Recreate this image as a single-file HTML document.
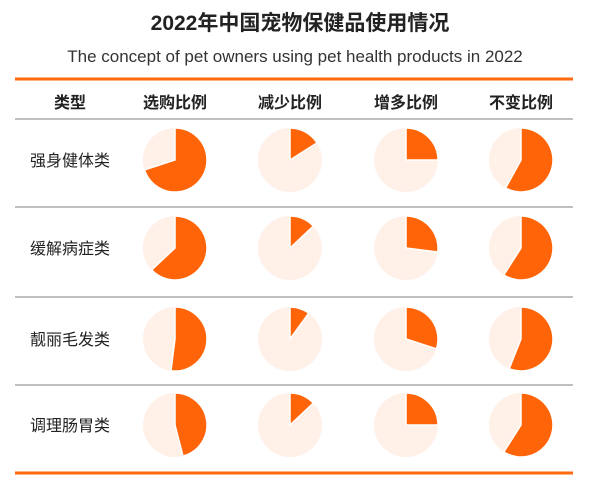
<!DOCTYPE html>
<html><head><meta charset="utf-8"><style>
body{margin:0;background:#fff;width:600px;height:483px;overflow:hidden;font-family:"Liberation Sans","Noto Sans CJK SC",sans-serif}
</style></head><body>
<svg width="600" height="483" id="c">
<text x="300" y="30" text-anchor="middle" font-size="21" font-weight="bold" fill="#222" font-family="Liberation Sans, Noto Sans CJK SC, sans-serif">2022年中国宠物保健品使用情况</text>
<text x="295" y="62" text-anchor="middle" font-size="17" fill="#333">The concept of pet owners using pet health products in 2022</text>
<line x1="15" x2="573" y1="79" y2="79" stroke="#ff6a10" stroke-width="3"/>
<line x1="15" x2="573" y1="473" y2="473" stroke="#ff6a10" stroke-width="3"/>
<g id="g"></g>
</svg>
<script>
const categories=["强身健体类","缓解病症类","靓丽毛发类","调理肠胃类"];
const columns=["选购比例","减少比例","增多比例","不变比例"];
const buyShare=[70,63,52,46];
const lessShare=[16,13,10,13];
const moreShare=[25,27,30,25];
const sameShare=[58,59,56,59];
const series=[buyShare,lessShare,moreShare,sameShare];
const NS="http://www.w3.org/2000/svg";
const g=document.getElementById('g');
const colX=[175,290,406,521], rowY=[160,248,339,425], R=32;
function mk(t,a){const e=document.createElementNS(NS,t);for(const k in a)e.setAttribute(k,a[k]);g.appendChild(e);return e;}
let h=mk('text',{x:70,y:108,'text-anchor':'middle','font-size':16,'font-weight':'bold',fill:'#222'});h.textContent="类型";


columns.forEach((c,i)=>{const t=mk('text',{x:colX[i],y:108,'text-anchor':'middle','font-size':16,'font-weight':'bold',fill:'#222'});t.textContent=c;

});
[119,207,297,385].forEach(y=>{const l=mk('line',{x1:15,x2:573,y1:y,y2:y,stroke:'#999','stroke-width':1.2});

});
categories.forEach((c,r)=>{
const t=mk('text',{x:70,y:rowY[r]+6,'text-anchor':'middle','font-size':16,fill:'#222'});t.textContent=c;


series.forEach((s,ci)=>{
const cx=colX[ci],cy=rowY[r],v=s[r];
const bg=mk('circle',{cx:cx,cy:cy,r:R,fill:'#fff0e8'});


const a=v/100*2*Math.PI;const x2=cx+R*Math.sin(a),y2=cy-R*Math.cos(a);
const p=mk('path',{d:`M${cx},${cy}L${cx},${cy-R}A${R},${R} 0 ${v>50?1:0} 1 ${x2},${y2}Z`,fill:'#ff6508',stroke:'#fff','stroke-width':1.5});


});});
</script>
</body></html>
